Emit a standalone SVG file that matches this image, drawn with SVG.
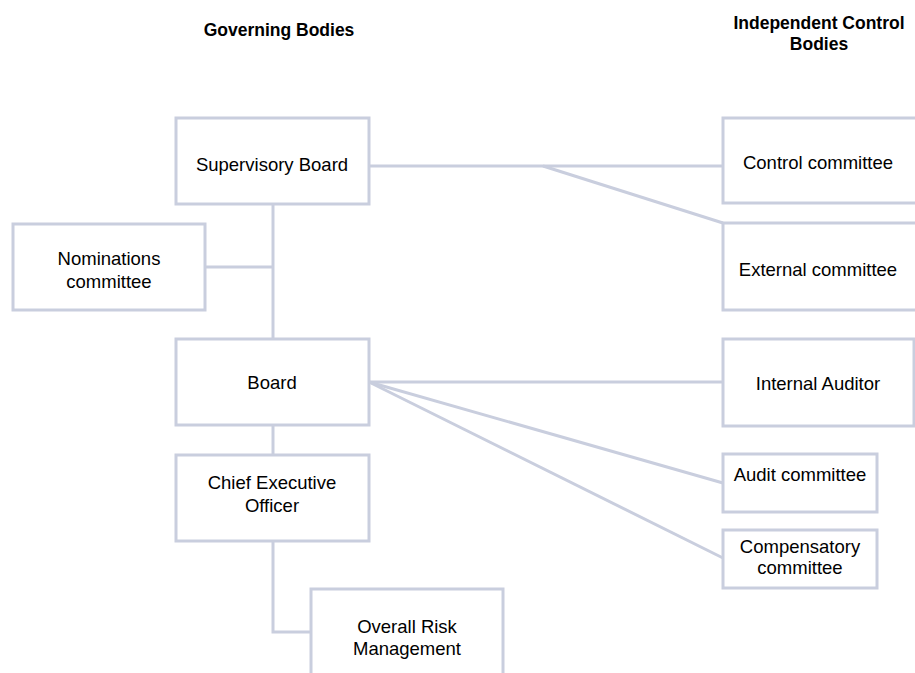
<svg xmlns="http://www.w3.org/2000/svg" width="915" height="673" viewBox="0 0 915 673">
<style>
.box{fill:#fff;stroke:#C9CEDE;stroke-width:3}
.ln{fill:none;stroke:#C9CEDE;stroke-width:3}
.t{font-family:"Liberation Sans",Arial,sans-serif;font-size:18.5px;fill:#000;text-anchor:middle}
.h{font-family:"Liberation Sans",Arial,sans-serif;font-size:17.5px;font-weight:bold;fill:#000;text-anchor:middle}
</style>
<rect width="915" height="673" fill="#fff"/>
<g id="titles">
<text class="h" x="279" y="36">Governing Bodies</text>
<text class="h" x="819" y="29">Independent Control</text>
<text class="h" x="819" y="50">Bodies</text>
</g>
<g id="connectors">
<line class="ln" x1="273" y1="204" x2="273" y2="339"/>
<line class="ln" x1="205" y1="267" x2="273" y2="267"/>
<line class="ln" x1="273" y1="425" x2="273" y2="455"/>
<polyline class="ln" points="273,541 273,632 311,632"/>
<line class="ln" x1="369" y1="166" x2="723" y2="166"/>
<line class="ln" x1="543" y1="166" x2="723" y2="223"/>
<line class="ln" x1="369" y1="382" x2="723" y2="382"/>
<line class="ln" x1="369" y1="382" x2="723" y2="483"/>
<line class="ln" x1="369" y1="382" x2="723" y2="558"/>
</g>
<g id="supervisory-board"><rect class="box" x="176" y="118" width="193" height="86"/><text class="t" x="272" y="171">Supervisory Board</text></g>
<g id="nominations-committee"><rect class="box" x="13" y="224" width="192" height="86"/><text class="t" x="109" y="265">Nominations</text><text class="t" x="109" y="288">committee</text></g>
<g id="board"><rect class="box" x="176" y="339" width="193" height="86"/><text class="t" x="272" y="389">Board</text></g>
<g id="ceo"><rect class="box" x="176" y="455" width="193" height="86"/><text class="t" x="272" y="489">Chief Executive</text><text class="t" x="272" y="512">Officer</text></g>
<g id="overall-risk"><rect class="box" x="311" y="589" width="192" height="100"/><text class="t" x="407" y="633">Overall Risk</text><text class="t" x="407" y="655">Management</text></g>
<g id="control-committee"><rect class="box" x="723" y="118" width="194" height="85"/><text class="t" x="818" y="169">Control committee</text></g>
<g id="external-committee"><rect class="box" x="723" y="223" width="194" height="87"/><text class="t" x="818" y="276">External committee</text></g>
<g id="internal-auditor"><rect class="box" x="723" y="339" width="191" height="87"/><text class="t" x="818" y="390">Internal Auditor</text></g>
<g id="audit-committee"><rect class="box" x="723" y="454" width="154" height="58"/><text class="t" x="800" y="481">Audit committee</text></g>
<g id="compensatory-committee"><rect class="box" x="723" y="530" width="154" height="58"/><text class="t" x="800" y="553">Compensatory</text><text class="t" x="800" y="574">committee</text></g>
</svg>
